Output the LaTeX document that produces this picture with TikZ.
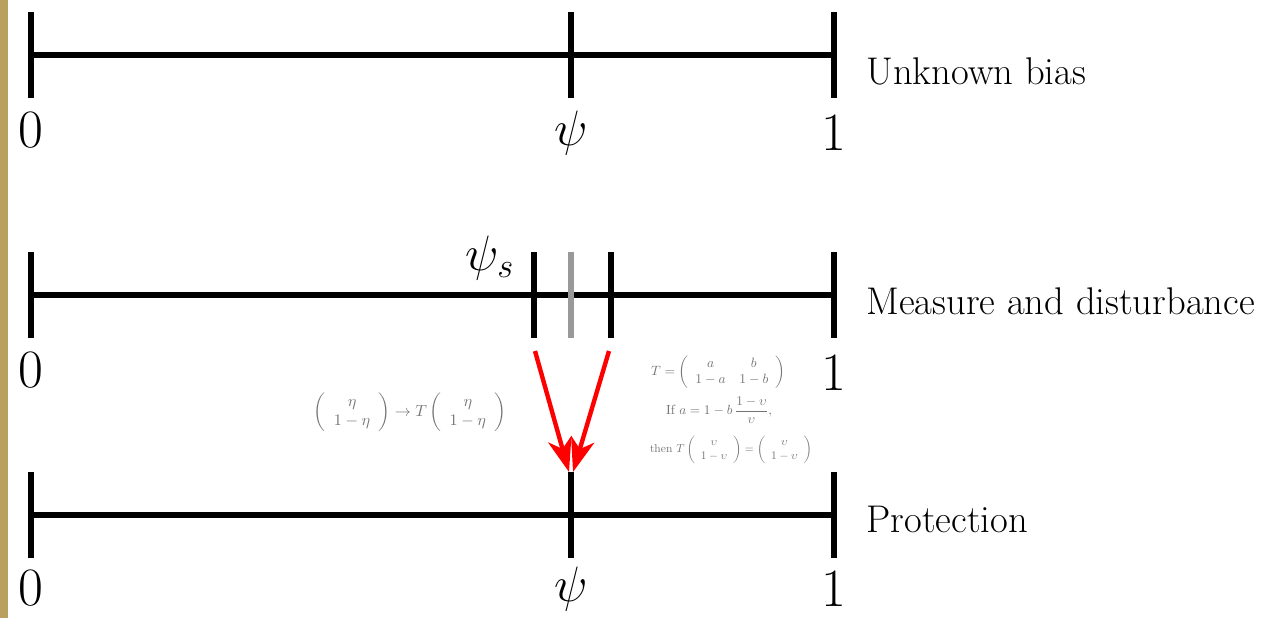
\documentclass[tikz,border=0pt]{standalone}
\usepackage{amsmath}
\usetikzlibrary{arrows.meta}
\definecolor{barcol}{HTML}{B9A05F}
\definecolor{arrowred}{HTML}{FF0000}
\begin{document}
\begin{tikzpicture}[x=0.5pt,y=-0.5pt,
  axis/.style={line width=2.7pt},
  tickmark/.style={line width=3.1pt},
  ticklabel/.style={font=\fontsize{27}{30}\selectfont, inner sep=0pt},
  rowlabel/.style={font=\fontsize{19.3}{22}\selectfont, anchor=west, inner sep=0pt},
  smallmath/.style={text=black!55, inner sep=0pt},
  redarrow/.style={draw=arrowred, line width=2.2pt, -{Stealth[length=17pt,width=12pt,inset=5pt]}}]
\useasboundingbox (0,0) rectangle (1264,618);
\fill[barcol] (0,0) rectangle (8,618);

% Row 1
\draw[axis] (31,55) -- (834,55);
\foreach \x in {31,571,834} \draw[tickmark] (\x,12) -- (\x,98);
\node[ticklabel] (z1) at (31,130) {0};
\node[ticklabel] (p1) at (571,133) {$\psi$};
\node[ticklabel] (o1) at (834,133) {1};
\node[rowlabel] (l1) at (866,71) {Unknown bias};

% Row 2
\draw[axis] (31,295) -- (834,295);
\foreach \x in {31,834} \draw[tickmark] (\x,252) -- (\x,338);
\draw[tickmark] (534,252) -- (534,338);
\draw[tickmark,black!40] (571,252) -- (571,338);
\draw[tickmark] (611,252) -- (611,338);
\node[ticklabel] (ps) at (490,258) {$\psi_s$};
\node[ticklabel] (z2) at (31,370) {0};
\node[ticklabel] (o2) at (834,373) {1};
\node[rowlabel] (l2) at (866,301) {Measure and disturbance};

% Row 3
\draw[axis] (31,515) -- (834,515);
\foreach \x in {31,571,834} \draw[tickmark] (\x,472) -- (\x,558);
\node[ticklabel] (z3) at (31,588) {0};
\node[ticklabel] (p3) at (571,589) {$\psi$};
\node[ticklabel] (o3) at (834,589) {1};
\node[rowlabel] (l3) at (866,519) {Protection};

% Arrows
\coordinate (a1s) at (535,351);
\coordinate (a2s) at (609,351);
\coordinate (a1e) at (569,472);
\coordinate (a2e) at (573,472);
\draw[redarrow] (a1s) -- (a1e);
\draw[redarrow] (a2s) -- (a2e);

% Small formulas
\node[smallmath] (f1) at (410,412) {\resizebox{96pt}{!}{$\left(\begin{array}{c}\eta\\ 1-\eta\end{array}\right)\rightarrow T\left(\begin{array}{c}\eta\\ 1-\eta\end{array}\right)$}};
\node[smallmath] (f2) at (718,372) {\resizebox{67pt}{!}{$T=\left(\begin{array}{cc}a & b\\ 1-a & 1-b\end{array}\right)$}};
\node[smallmath] (f3) at (719,410) {\resizebox{53pt}{!}{If $a=1-b\,\dfrac{1-\upsilon}{\upsilon},$}};
\node[smallmath] (f4) at (731,450) {\resizebox{81pt}{!}{then $T\left(\begin{array}{c}\upsilon\\ 1-\upsilon\end{array}\right)=\left(\begin{array}{c}\upsilon\\ 1-\upsilon\end{array}\right)$}};
\end{tikzpicture}
\end{document}
